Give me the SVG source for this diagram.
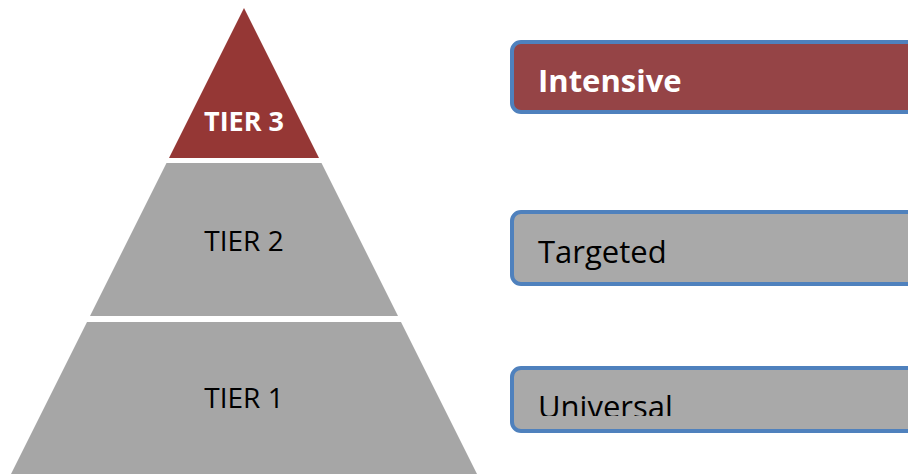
<svg xmlns="http://www.w3.org/2000/svg" width="908" height="474" viewBox="0 0 908 474">
<style>
.tier{fill:#a6a6a6}
.t{font-family:"Open Sans","Noto Sans",sans-serif;text-anchor:middle}
.box{stroke:#4f81bd;stroke-width:4}
.bl{font-family:"Open Sans","Noto Sans",sans-serif;font-size:31px}
</style>
<defs>
<clipPath id="cu"><rect x="0" y="0" width="908" height="416"/></clipPath>
</defs>
<rect width="908" height="474" fill="#fff"/>
<g id="tier3">
<polygon points="244,8 319,158 169,158" fill="#953735"/>
<text class="t" x="244" y="131" font-size="27" font-weight="bold" fill="#fff">TIER 3</text>
</g>
<g id="tier2">
<polygon class="tier" points="166.5,163 321.5,163 398,316 90,316"/>
<text class="t" x="244" y="251" font-size="28" fill="#000">TIER 2</text>
</g>
<g id="tier1">
<polygon class="tier" points="87,322 401,322 477,474 11,474"/>
<text class="t" x="244" y="408" font-size="28" fill="#000">TIER 1</text>
</g>
<g id="intensive">
<rect class="box" x="512" y="42" width="420" height="70" rx="9" fill="#954446"/>
<text class="bl" x="538" y="92" font-weight="bold" font-size="28" fill="#fff">Intensive</text>
</g>
<g id="targeted">
<rect class="box" x="512" y="212" width="420" height="72" rx="9" fill="#a9a9a9"/>
<text class="bl" x="538" y="263" fill="#000">Targeted</text>
</g>
<g id="universal">
<rect class="box" x="512" y="368" width="420" height="63" rx="9" fill="#a9a9a9"/>
<text class="bl" x="538" y="418" fill="#000" clip-path="url(#cu)">Universal</text>
</g>
<g id="connectors"/>
</svg>
